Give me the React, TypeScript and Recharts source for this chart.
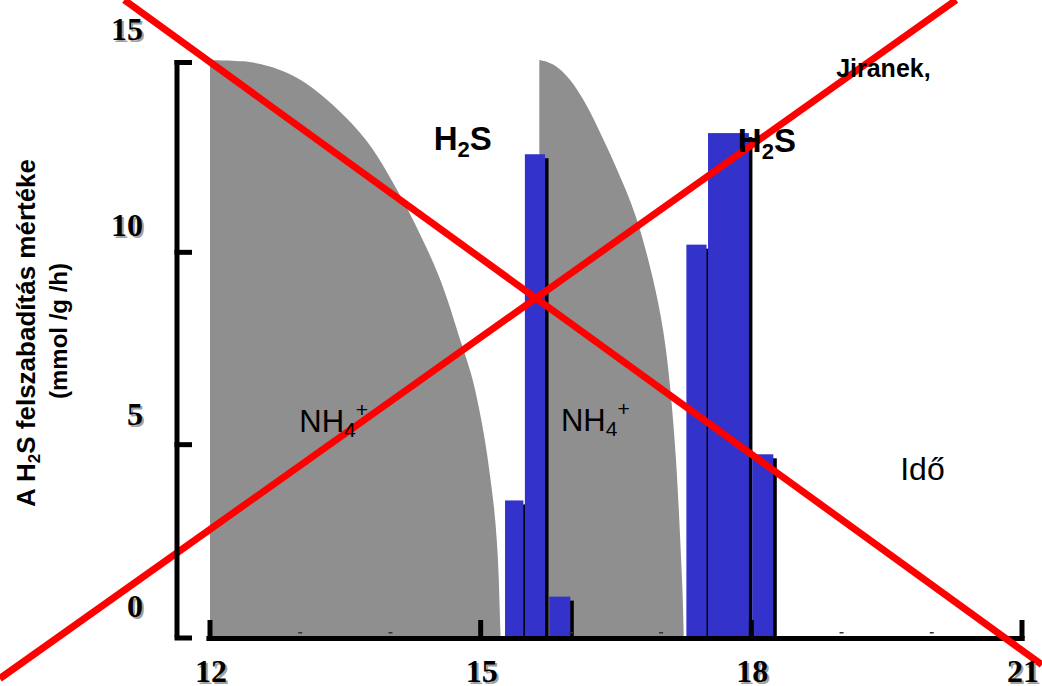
import {
  ComposedChart,
  Area,
  XAxis,
  YAxis,
  ReferenceArea,
  ReferenceLine,
  ReferenceDot,
} from "recharts";

// first NH4+ peak (grey), edge
const firstPeakX = [12.0, 12.39, 12.63, 13.0, 13.4, 13.75, 13.97, 14.18, 14.36, 14.53, 14.66, 14.77, 14.9, 14.98, 15.05, 15.1, 15.15, 15.18, 15.2, 15.21, 15.22];
const firstPeakY = [15.0, 14.98, 14.87, 14.56, 13.78, 12.92, 12.06, 11.19, 10.32, 9.46, 8.59, 7.72, 6.86, 5.98, 5.12, 4.26, 3.38, 2.52, 1.66, 0.78, 0.05];

// second NH4+ peak
const secondPeakX = [15.65, 15.81, 15.99, 16.18, 16.36, 16.55, 16.73, 16.91, 17.03, 17.1, 17.17, 17.21, 17.24, 17.25];
const secondPeakY = [15.0, 14.92, 14.53, 13.83, 12.94, 11.96, 10.95, 9.37, 7.98, 6.59, 4.6, 2.63, 1.14, 0.09];

// H2S release bars
const h2sFrom = [15.27, 15.49, 15.76, 17.28, 17.52, 18.01];
const h2sTo = [15.49, 15.73, 16.01, 17.52, 17.99, 18.26];
const h2sRate = [3.55, 12.55, 1.05, 10.2, 13.1, 4.75];

const xTicks = [12, 13, 14, 15, 16, 17, 18, 19, 20, 21];
const xLabelled = [12, 15, 18, 21];
const yTicks = [0, 5, 10, 15];

// the red cross drawn over the slide
const crossA = [{ x: 11.05, y: 16.56 }, { x: 21.22, y: -0.72 }];
const crossB = [{ x: 9.67, y: -1.08 }, { x: 20.27, y: 16.56 }];

const firstPeak = firstPeakX.map((x, i) => ({ x, y: firstPeakY[i] }));
const secondPeak = secondPeakX.map((x, i) => ({ x, y: secondPeakY[i] }));

const serif = '"Liberation Serif", "Times New Roman", serif';
const sans = '"Liberation Sans", Arial, Helvetica, sans-serif';

const BarShape = (p: any) => {
  const { x, y, width, height } = p;
  return (
    <g>
      <rect x={x + 2} y={y + 4} width={width} height={height - 2} fill="#000" />
      <rect x={x} y={y} width={width - 1.5} height={height} fill="#3333cc" />
    </g>
  );
};

const ShadowText = ({ x, y, anchor, children }: any) => (
  <g fontFamily={serif} fontWeight="bold" fontSize={32} textAnchor={anchor}>
    <text x={x + 2} y={y + 2} fill="#a0a0a0">{children}</text>
    <text x={x} y={y} fill="#000">{children}</text>
  </g>
);

const YTick = (props: any) => {
  const { x, y, payload } = props;
  const v = payload.value;
  const ly = v === 15 ? y + 2.5 : v === 0 ? y + 1 : y;
  return (
    <g>
      <line x1={x - 2.5} x2={x + 15} y1={ly} y2={ly} stroke="#000" strokeWidth={5} />
      <ShadowText x={x - 34} y={v === 10 ? y - 16 : y - 20} anchor="end">{v}</ShadowText>
    </g>
  );
};

const XTick = (props: any) => {
  const { x, y, payload } = props;
  const v = payload.value;
  if (!xLabelled.includes(v)) {
    return <rect x={x - 2} y={y - 5} width={4} height={1.5} fill="#333" />;
  }
  return (
    <g>
      <line x1={x} x2={x} y1={y - 17} y2={y + 1} stroke="#000" strokeWidth={5} />
      <ShadowText x={x + 1} y={y + 45} anchor="middle">{v}</ShadowText>
    </g>
  );
};

const Note = ({ x, y, size, bold, children }: any) => (
  <text x={x} y={y} fontFamily={sans} fontSize={size} fontWeight={bold ? "bold" : "normal"} fill="#000">
    {children}
  </text>
);

const h2sText = (p: any) => (
  <Note x={p.cx} y={p.cy} size={33} bold>
    H<tspan fontSize={22} dy={7}>2</tspan><tspan dy={-7}>S</tspan>
  </Note>
);

const nh4Text = (p: any) => (
  <Note x={p.cx} y={p.cy} size={31}>
    NH<tspan fontSize={21} dy={5}>4</tspan><tspan fontSize={21} dy={-20}>+</tspan>
  </Note>
);

const authorText = (p: any) => (
  <Note x={p.cx} y={p.cy} size={25} bold>Jiranek,</Note>
);

const timeText = (p: any) => (
  <Note x={p.cx} y={p.cy} size={32}>Idő</Note>
);

export default function App() {
  return (
    <div style={{ position: "absolute", left: 0, top: 0, width: 1042, height: 686, background: "#fff" }}>
      <ComposedChart width={1042} height={686} margin={{ top: 60, right: 20, bottom: 0, left: 0 }}>
        <XAxis
          type="number"
          dataKey="x"
          domain={[12, 21]}
          ticks={xTicks}
          padding={{ left: 33, right: 0 }}
          axisLine={false}
          tickLine={false}
          tickSize={0}
          tickMargin={0}
          height={49}
          interval={0}
          tick={<XTick />}
        />
        <YAxis
          type="number"
          domain={[0, 15]}
          ticks={yTicks}
          width={177}
          axisLine={{ stroke: "#000", strokeWidth: 5 }}
          tickLine={false}
          tickSize={0}
          tickMargin={0}
          interval={0}
          tick={<YTick />}
        />
        <Area
          data={firstPeak}
          dataKey="y"
          type="basis"
          fill="#8f8f8f"
          fillOpacity={1}
          stroke="none"
          dot={false}
          activeDot={false}
          isAnimationActive={false}
        />
        <Area
          data={secondPeak}
          dataKey="y"
          type="basis"
          fill="#8f8f8f"
          fillOpacity={1}
          stroke="none"
          dot={false}
          activeDot={false}
          isAnimationActive={false}
        />
        {h2sRate.map((v, i) => (
          <ReferenceArea
            key={i}
            x1={h2sFrom[i]}
            x2={h2sTo[i]}
            y1={0}
            y2={v}
            shape={<BarShape />}
          />
        ))}
        <ReferenceLine
          segment={[{ x: 11.96, y: -0.04 }, { x: 21.03, y: -0.04 }]}
          stroke="#000"
          strokeWidth={5}
          ifOverflow="visible"
        />
        <ReferenceDot x={14.48} y={12.66} r={0} shape={h2sText} />
        <ReferenceDot x={17.85} y={12.61} r={0} shape={h2sText} />
        <ReferenceDot x={18.94} y={14.55} r={0} shape={authorText} />
        <ReferenceDot x={12.99} y={5.33} r={0} shape={nh4Text} />
        <ReferenceDot x={15.89} y={5.36} r={0} shape={nh4Text} />
        <ReferenceDot x={19.65} y={4.08} r={0} shape={timeText} />
        <text transform="translate(35,333) rotate(-90)" textAnchor="middle" fontFamily={sans} fontWeight="bold" fontSize={26} fill="#000">
          A H<tspan fontSize={17} dy={5}>2</tspan><tspan dy={-5}>S felszabadítás mértéke</tspan>
        </text>
        <text transform="translate(67,331) rotate(-90)" textAnchor="middle" fontFamily={sans} fontWeight="bold" fontSize={24} fill="#000">
          (mmol /g /h)
        </text>
        <ReferenceLine segment={crossA} stroke="#ff0000" strokeWidth={7} ifOverflow="visible" />
        <ReferenceLine segment={crossB} stroke="#ff0000" strokeWidth={7} ifOverflow="visible" />
      </ComposedChart>
    </div>
  );
}
